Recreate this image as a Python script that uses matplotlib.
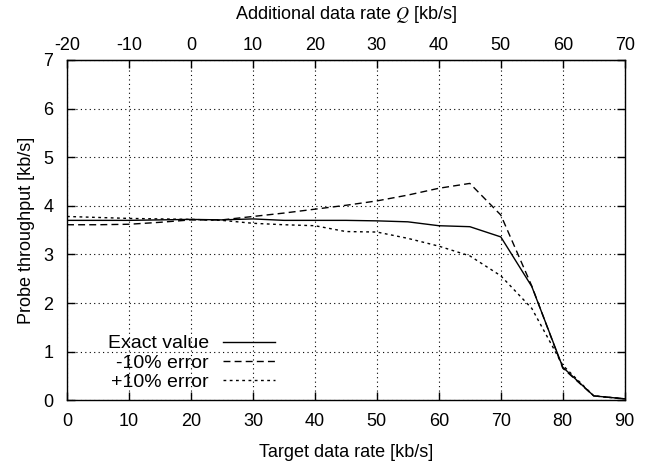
import matplotlib
matplotlib.use('Agg')
import matplotlib.pyplot as plt

plt.rcParams['font.family'] = ['Liberation Sans', 'DejaVu Sans']
plt.rcParams['mathtext.fontset'] = 'stix'
plt.rcParams['axes.unicode_minus'] = False

rate = [0, 5, 10, 15, 20, 25, 30, 35, 40, 45, 50, 55, 60, 65, 70, 75, 80, 85, 90]
exact = [3.70, 3.70, 3.70, 3.71, 3.72, 3.71, 3.73, 3.70, 3.70, 3.70, 3.69, 3.67, 3.59, 3.57, 3.36, 2.34, 0.68, 0.09, 0.03]
minus10 = [3.61, 3.61, 3.62, 3.66, 3.71, 3.71, 3.78, 3.85, 3.93, 4.01, 4.10, 4.22, 4.36, 4.46, 3.81, 2.35, 0.66, 0.09, 0.03]
plus10 = [3.78, 3.76, 3.74, 3.73, 3.72, 3.70, 3.64, 3.61, 3.59, 3.47, 3.46, 3.33, 3.17, 2.97, 2.56, 1.89, 0.72, 0.09, 0.03]

fig = plt.figure(figsize=(6.59, 4.68), dpi=100)
ax = fig.add_axes([0.1017, 0.1447, 0.8463, 0.7273])

ax.plot(rate, exact, color='k', lw=1.0, ls='-', label='Exact value')
ax.plot(rate, minus10, color='k', lw=1.0, ls=(0, (5, 3)), label='-10% error')
ax.plot(rate, plus10, color='k', lw=1.0, ls=(0, (2, 2.5)), label='+10% error')

ax.set_xlim(0, 90)
ax.set_ylim(0, 7)
ax.set_xticks(range(0, 91, 10))
ax.set_yticks(range(0, 8))
ax.grid(True, color='k', ls=(0, (1, 3)), lw=0.8)
ax.tick_params(direction='in', length=6, labelsize=13, right=True, width=1)
ax.tick_params(axis='x', pad=9)
ax.tick_params(axis='y', pad=10)
for s in ax.spines.values():
    s.set_linewidth(1.0)

ax.set_xlabel('Target data rate [kb/s]', fontsize=13, labelpad=10)
ax.set_ylabel('Probe throughput [kb/s]', fontsize=13, labelpad=6)

top = ax.secondary_xaxis('top', functions=(lambda x: x - 20, lambda q: q + 20))
top.set_xticks(range(-20, 71, 10))
top.tick_params(direction='in', length=6, labelsize=13, width=1, pad=4)
top.set_xlabel('Additional data rate $Q$ [kb/s]', fontsize=13, labelpad=13)

ax.legend(loc='center right', bbox_to_anchor=(0.373, 0.11), frameon=False, markerfirst=False,
          fontsize=14, handlelength=2.7, labelspacing=0.08, handletextpad=0.7,
          borderpad=0, borderaxespad=0)

fig.savefig('out.png', dpi=100)
